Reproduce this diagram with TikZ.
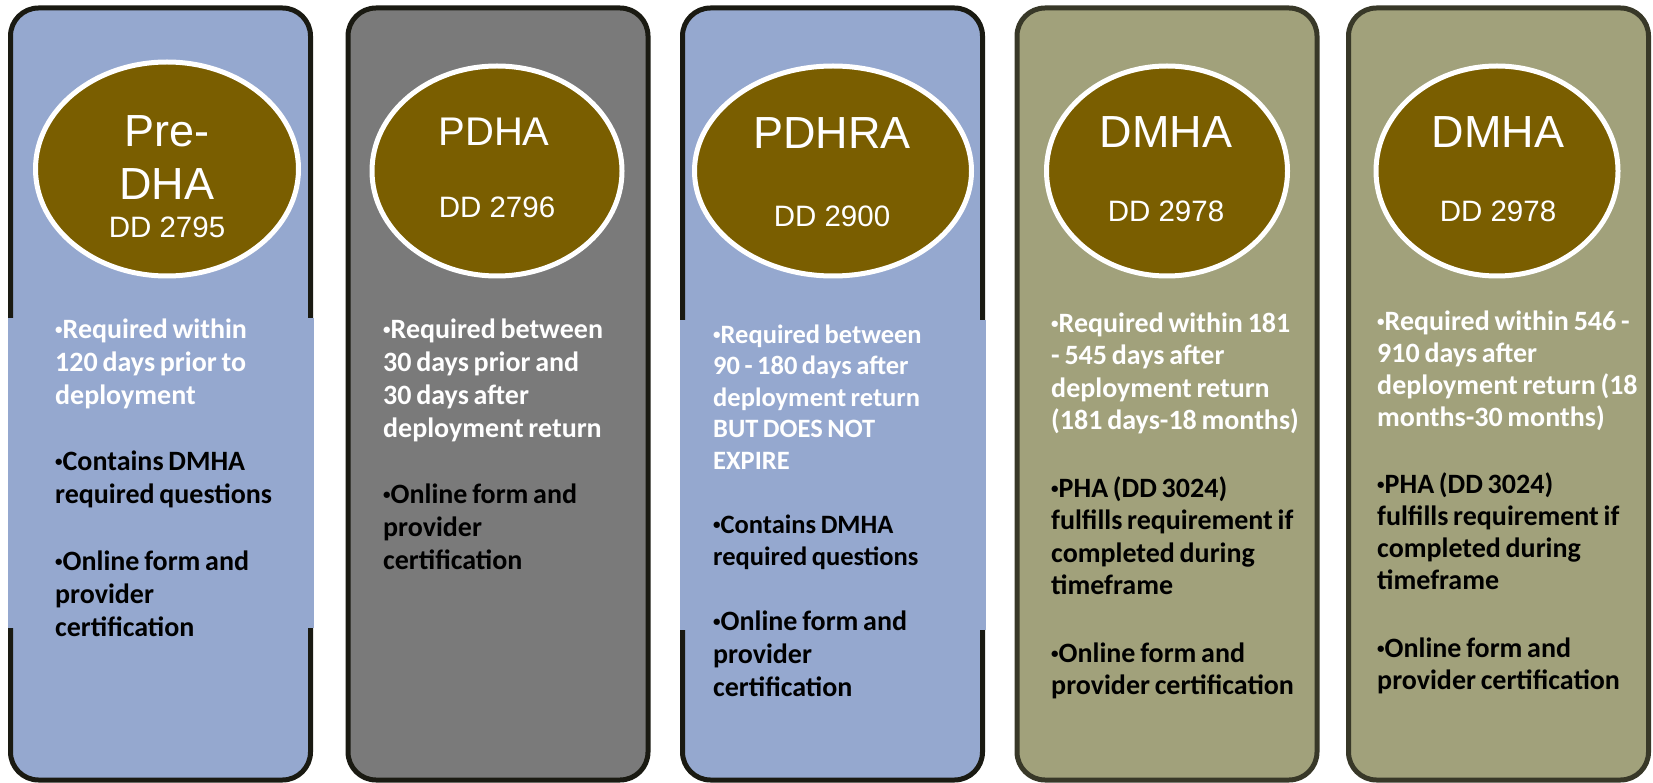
\documentclass[tikz,border=0pt]{standalone}
\usepackage{fontspec}
\setmainfont{Liberation Sans}
\newfontfamily\bodyfont{Carlito}
\usetikzlibrary{shapes.geometric}
\definecolor{boxblue}{RGB}{149,168,207}
\definecolor{boxgray}{RGB}{122,122,122}
\definecolor{boxolive}{RGB}{161,161,123}
\definecolor{ellbrown}{RGB}{122,94,0}
\definecolor{edgedark}{RGB}{26,26,18}
\definecolor{edgeolive}{RGB}{56,56,40}
\newcommand\bul{\rule{0pt}{24pt}{\fontsize{15}{15}\selectfont\raisebox{4pt}{•}}}
\newcommand\bodyA[1]{\bodyfont\bfseries\fontsize{28}{#1}\selectfont\spaceskip 0.17em\relax}
\newcommand\bodyB[1]{\bodyfont\bfseries\fontsize{26.5}{#1}\selectfont\spaceskip 0.17em\relax}
\begin{document}
\begin{tikzpicture}[x=1pt,y=-1pt,
 panel/.style={draw=edgedark,line width=5pt,rounded corners=28pt,minimum width=300pt,minimum height=772pt,inner sep=0pt},
 badge/.style={ellipse,fill=ellbrown,draw=white,line width=5pt,inner sep=0pt,minimum height=210pt},
 title/.style={text=white,font=\fontsize{45}{54}\selectfont,anchor=base,inner sep=0pt},
 sub/.style={text=white,font=\fontsize{29.5}{34}\selectfont,anchor=base,inner sep=0pt},
 body/.style={font={\bodyA{#1}},anchor=north west,inner sep=0pt,align=left},
 body/.default=33,
 lead/.style={body=#1,text=white},
 lead/.default=33,
 smallbody/.style={font={\bodyB{#1}}},
]
\useasboundingbox (0,0) rectangle (1653,783);
% panels
\node[panel,fill=boxblue] (b1) at (160.5,394) {};
\node[panel,fill=boxgray] (b2) at (498,394) {};
\node[panel,fill=boxblue] (b3) at (832.5,394) {};
\node[panel,fill=boxolive,draw=edgeolive] (b4) at (1167,394) {};
\node[panel,fill=boxolive,draw=edgeolive] (b5) at (1498.5,394) {};
% text areas covering the side borders
\fill[boxblue] (7.5,318) rectangle (313.5,628);
\fill[boxblue] (679.5,320) rectangle (985.5,630);
% badges
\node[badge,minimum width=263pt,minimum height=214pt] (e1) at (167,169) {};
\node[badge,minimum width=250pt] (e2) at (497,171) {};
\node[badge,minimum width=277pt] (e3) at (833,171) {};
\node[badge,minimum width=241pt] (e4) at (1167,171) {};
\node[badge,minimum width=242pt] (e5) at (1497,171) {};
% titles
\node[title] (t1a) at (167,147) {Pre-};
\node[title] (t1b) at (167,200) {DHA};
\node[sub] (s1) at (167,238) {DD 2795};
\node[title,font=\fontsize{40}{48}\selectfont] (t2) at (494,146) {PDHA};
\node[sub] (s2) at (497,218) {DD 2796};
\node[title] (t3) at (832,149) {PDHRA};
\node[sub] (s3) at (832,227) {DD 2900};
\node[title] (t4) at (1166,148) {DMHA};
\node[sub] (s4) at (1166,222) {DD 2978};
\node[title] (t5) at (1498,148) {DMHA};
\node[sub] (s5) at (1498,222) {DD 2978};
% box 1 text
\node[lead=33] (p1a) at (55,314) {\bul Required within\\120 days prior to\\deployment};
\node[body=33] (p1b) at (55,446) {\bul Contains DMHA\\required questions};
\node[body=33] (p1c) at (55,546) {\bul Online form and\\provider\\certification};
% box 2 text
\node[lead=33] (p2a) at (383,314) {\bul Required between\\30 days prior and\\30 days after\\deployment return};
\node[body=33] (p2b) at (383,479) {\bul Online form and\\provider\\certification};
% box 3 text
\node[lead,smallbody=31.5] (p3a) at (713,319) {\bul Required between\\90 - 180 days after\\deployment return\\BUT DOES NOT\\EXPIRE};
\node[body,smallbody=32.5] (p3b) at (713,509) {\bul Contains DMHA\\required questions};
\node[body=33] (p3c) at (713,606) {\bul Online form and\\provider\\certification};
% box 4 text
\node[lead=32.5] (p4a) at (1051,308) {\bul Required within 181\\- 545 days after\\deployment return\\(181 days-18 months)};
\node[body=32.5] (p4b) at (1051,473) {\bul PHA (DD 3024)\\fulfills requirement if\\completed during\\timeframe};
\node[body=32.5] (p4c) at (1051,638) {\bul Online form and\\provider certification};
% box 5 text
\node[lead=32] (p5a) at (1377,306) {\bul Required within 546 -\\910 days after\\deployment return (18\\months-30 months)};
\node[body=32] (p5b) at (1377,469) {\bul PHA (DD 3024)\\fulfills requirement if\\completed during\\timeframe};
\node[body=32] (p5c) at (1377,633) {\bul Online form and\\provider certification};
\end{tikzpicture}
\end{document}
